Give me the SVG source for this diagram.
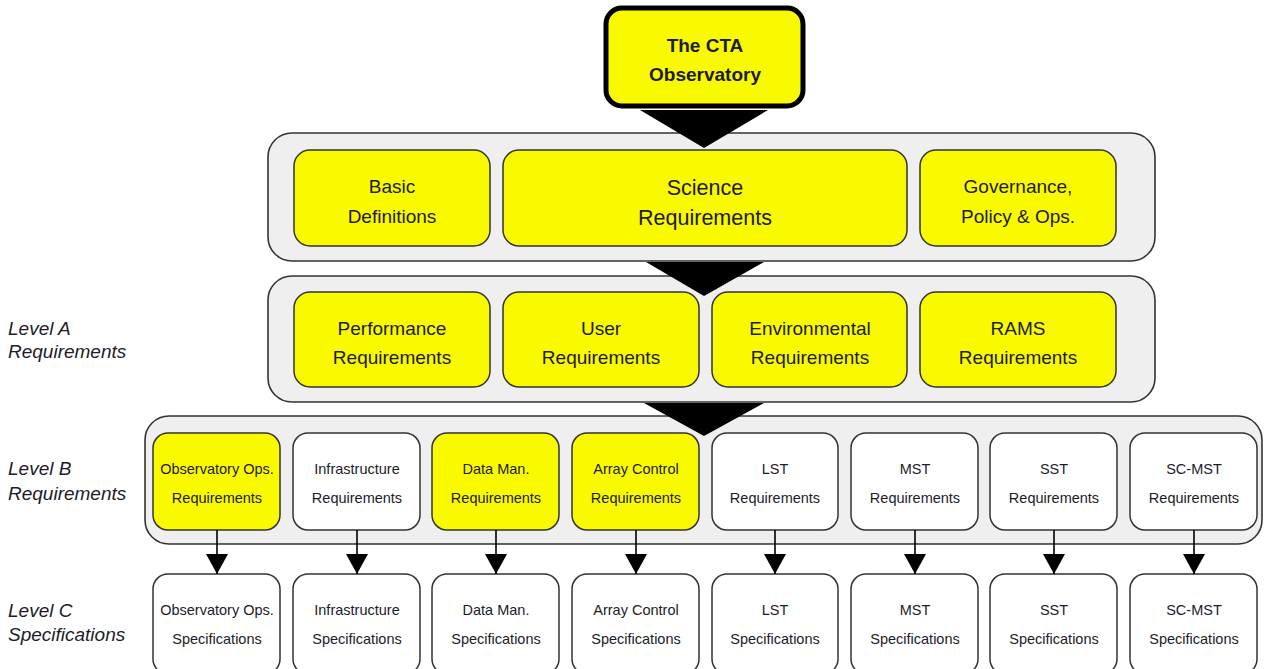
<svg xmlns="http://www.w3.org/2000/svg" width="1264" height="669" viewBox="0 0 1264 669">
<style>
.panel{fill:#efefef;stroke:#333;stroke-width:1.6}
.y{fill:#f9f900;stroke:#333;stroke-width:1.5}
.w{fill:#fff;stroke:#333;stroke-width:1.5}
text{font-family:"Liberation Sans",Arial,sans-serif;fill:#1c1c2a;text-anchor:middle}
.t19{font-size:19px}
.t21{font-size:21.5px}
.t14{font-size:14.5px}
.lvl{font-size:19px;font-style:italic;text-anchor:start}
.tri{fill:#000}
.ln{stroke:#000;stroke-width:1.6;fill:none}
</style>
<defs>
<marker id="ah" viewBox="0 0 20 22" markerWidth="20" markerHeight="22" refX="20" refY="11" orient="auto" markerUnits="userSpaceOnUse">
<path d="M0,0 L20,11 L0,22 Z" fill="#000"/>
</marker>
</defs>

<g id="level-labels">
<text class="lvl" x="8" y="335">Level A</text>
<text class="lvl" x="8" y="358">Requirements</text>
<text class="lvl" x="8" y="475">Level B</text>
<text class="lvl" x="8" y="500">Requirements</text>
<text class="lvl" x="8" y="617">Level C</text>
<text class="lvl" x="8" y="641">Specifications</text>
</g>

<g id="panel-top"><rect class="panel" x="268" y="133" width="887" height="128" rx="24"/></g>
<g id="panel-levelA"><rect class="panel" x="268" y="276" width="887" height="126" rx="24"/></g>
<g id="panel-levelB"><rect class="panel" x="145" y="416" width="1117" height="128" rx="24"/></g>

<g id="cta"><rect x="606" y="8" width="197" height="98" rx="16" fill="#f9f900" stroke="#000" stroke-width="5"/>
<text class="t19" font-weight="bold" x="705" y="52">The CTA</text>
<text class="t19" font-weight="bold" x="705" y="81">Observatory</text></g>

<g id="basic"><rect class="y" x="294" y="150" width="196" height="96" rx="16"/>
<text class="t19" x="392" y="193">Basic</text><text class="t19" x="392" y="223">Definitions</text></g>
<g id="science"><rect class="y" x="503" y="150" width="404" height="96" rx="16"/>
<text class="t21" x="705" y="195">Science</text><text class="t21" x="705" y="225">Requirements</text></g>
<g id="governance"><rect class="y" x="920" y="150" width="196" height="96" rx="16"/>
<text class="t19" x="1018" y="193">Governance,</text><text class="t19" x="1018" y="223">Policy &amp; Ops.</text></g>

<g id="performance"><rect class="y" x="294" y="292" width="196" height="95" rx="16"/>
<text class="t19" x="392" y="335">Performance</text><text class="t19" x="392" y="364">Requirements</text></g>
<g id="user"><rect class="y" x="503" y="292" width="196" height="95" rx="16"/>
<text class="t19" x="601" y="335">User</text><text class="t19" x="601" y="364">Requirements</text></g>
<g id="environmental"><rect class="y" x="712" y="292" width="195" height="95" rx="16"/>
<text class="t19" x="810" y="335">Environmental</text><text class="t19" x="810" y="364">Requirements</text></g>
<g id="rams"><rect class="y" x="920" y="292" width="196" height="95" rx="16"/>
<text class="t19" x="1018" y="335">RAMS</text><text class="t19" x="1018" y="364">Requirements</text></g>

<g id="b-obs"><rect class="y" x="153" y="433" width="127" height="97" rx="15"/>
<text class="t14" x="217" y="474">Observatory Ops.</text><text class="t14" x="217" y="503">Requirements</text></g>
<g id="b-infra"><rect class="w" x="293" y="433" width="127" height="97" rx="15"/>
<text class="t14" x="357" y="474">Infrastructure</text><text class="t14" x="357" y="503">Requirements</text></g>
<g id="b-data"><rect class="y" x="432" y="433" width="127" height="97" rx="15"/>
<text class="t14" x="496" y="474">Data Man.</text><text class="t14" x="496" y="503">Requirements</text></g>
<g id="b-array"><rect class="y" x="572" y="433" width="127" height="97" rx="15"/>
<text class="t14" x="636" y="474">Array Control</text><text class="t14" x="636" y="503">Requirements</text></g>
<g id="b-lst"><rect class="w" x="712" y="433" width="126" height="97" rx="15"/>
<text class="t14" x="775" y="474">LST</text><text class="t14" x="775" y="503">Requirements</text></g>
<g id="b-mst"><rect class="w" x="851" y="433" width="127" height="97" rx="15"/>
<text class="t14" x="915" y="474">MST</text><text class="t14" x="915" y="503">Requirements</text></g>
<g id="b-sst"><rect class="w" x="990" y="433" width="127" height="97" rx="15"/>
<text class="t14" x="1054" y="474">SST</text><text class="t14" x="1054" y="503">Requirements</text></g>
<g id="b-scmst"><rect class="w" x="1130" y="433" width="127" height="97" rx="15"/>
<text class="t14" x="1194" y="474">SC-MST</text><text class="t14" x="1194" y="503">Requirements</text></g>

<g id="c-obs"><rect class="w" x="153" y="574" width="127" height="100" rx="15"/>
<text class="t14" x="217" y="615">Observatory Ops.</text><text class="t14" x="217" y="644">Specifications</text></g>
<g id="c-infra"><rect class="w" x="293" y="574" width="127" height="100" rx="15"/>
<text class="t14" x="357" y="615">Infrastructure</text><text class="t14" x="357" y="644">Specifications</text></g>
<g id="c-data"><rect class="w" x="432" y="574" width="127" height="100" rx="15"/>
<text class="t14" x="496" y="615">Data Man.</text><text class="t14" x="496" y="644">Specifications</text></g>
<g id="c-array"><rect class="w" x="572" y="574" width="127" height="100" rx="15"/>
<text class="t14" x="636" y="615">Array Control</text><text class="t14" x="636" y="644">Specifications</text></g>
<g id="c-lst"><rect class="w" x="712" y="574" width="126" height="100" rx="15"/>
<text class="t14" x="775" y="615">LST</text><text class="t14" x="775" y="644">Specifications</text></g>
<g id="c-mst"><rect class="w" x="851" y="574" width="127" height="100" rx="15"/>
<text class="t14" x="915" y="615">MST</text><text class="t14" x="915" y="644">Specifications</text></g>
<g id="c-sst"><rect class="w" x="990" y="574" width="127" height="100" rx="15"/>
<text class="t14" x="1054" y="615">SST</text><text class="t14" x="1054" y="644">Specifications</text></g>
<g id="c-scmst"><rect class="w" x="1130" y="574" width="127" height="100" rx="15"/>
<text class="t14" x="1194" y="615">SC-MST</text><text class="t14" x="1194" y="644">Specifications</text></g>

<g id="connectors">
<polygon class="tri" points="640,110 768,110 704,148"/>
<polygon class="tri" points="646,262 764,262 704,296"/>
<polygon class="tri" points="644,403 764,403 704,436"/>
<line class="ln" x1="217" y1="530" x2="217" y2="574" marker-end="url(#ah)"/>
<line class="ln" x1="357" y1="530" x2="357" y2="574" marker-end="url(#ah)"/>
<line class="ln" x1="496" y1="530" x2="496" y2="574" marker-end="url(#ah)"/>
<line class="ln" x1="636" y1="530" x2="636" y2="574" marker-end="url(#ah)"/>
<line class="ln" x1="775" y1="530" x2="775" y2="574" marker-end="url(#ah)"/>
<line class="ln" x1="915" y1="530" x2="915" y2="574" marker-end="url(#ah)"/>
<line class="ln" x1="1054" y1="530" x2="1054" y2="574" marker-end="url(#ah)"/>
<line class="ln" x1="1194" y1="530" x2="1194" y2="574" marker-end="url(#ah)"/>
</g>
</svg>
